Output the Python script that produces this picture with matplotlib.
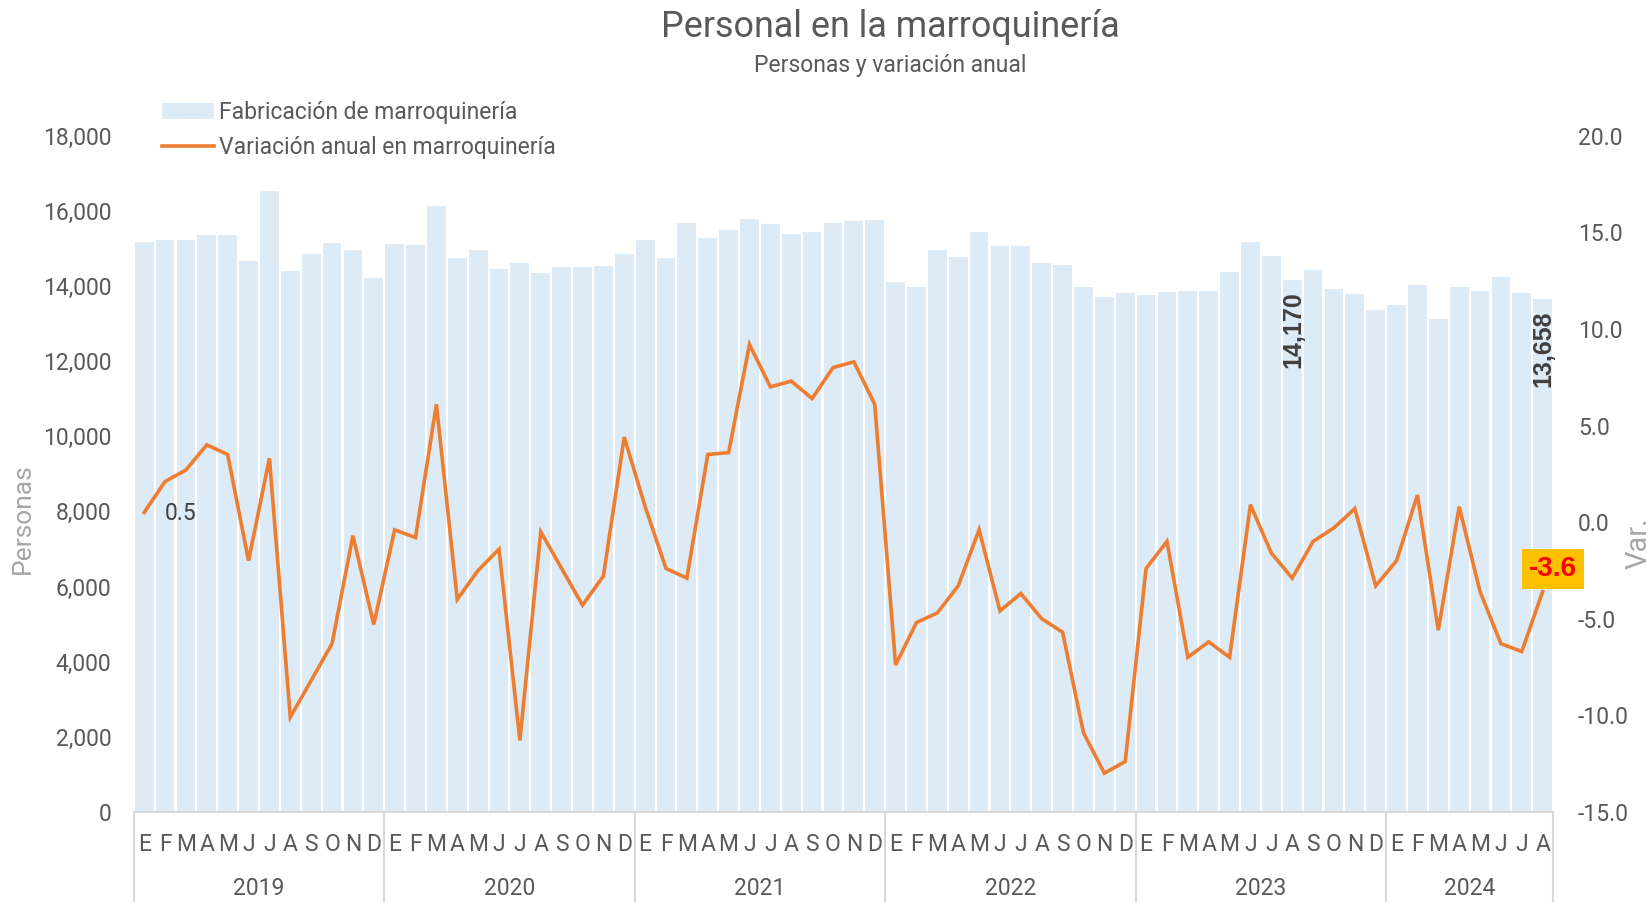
import numpy as np
import matplotlib.pyplot as plt
import matplotlib.transforms as mtransforms

plt.rcParams['font.family'] = ['Roboto', 'DejaVu Sans']

# datos (ene 2019 - ago 2024)
years = ['2019', '2020', '2021', '2022', '2023', '2024']
month_letters = ['E', 'F', 'M', 'A', 'M', 'J', 'J', 'A', 'S', 'O', 'N', 'D']

personas = [
    15170, 15220, 15230, 15370, 15360, 14670, 16540, 14400, 14860, 15150, 14960, 14210,
    15130, 15090, 16130, 14760, 14960, 14460, 14620, 14340, 14520, 14510, 14530, 14850,
    15230, 14750, 15670, 15270, 15500, 15790, 15640, 15390, 15450, 15670, 15740, 15760,
    14110, 13980, 14950, 14770, 15440, 15060, 15060, 14620, 14560, 13970, 13700, 13820,
    13770, 13840, 13880, 13870, 14380, 15180, 14810, 14170, 14420, 13920, 13780, 13360,
    13500, 14030, 13120, 13970, 13870, 14240, 13820, 13658,
]

variacion = [
    0.5, 2.1, 2.7, 4.0, 3.5, -2.0, 3.3, -10.1, -8.2, -6.3, -0.7, -5.3,
    -0.4, -0.8, 6.1, -4.0, -2.5, -1.4, -11.3, -0.5, -2.4, -4.3, -2.8, 4.4,
    0.8, -2.4, -2.9, 3.5, 3.6, 9.2, 7.0, 7.3, 6.4, 8.0, 8.3, 6.1,
    -7.4, -5.2, -4.7, -3.3, -0.4, -4.6, -3.7, -5.0, -5.7, -10.9, -13.0, -12.4,
    -2.4, -1.0, -7.0, -6.2, -7.0, 0.9, -1.6, -2.9, -1.0, -0.3, 0.7, -3.3,
    -2.0, 1.4, -5.6, 0.8, -3.6, -6.3, -6.7, -3.6,
]

n = len(personas)
x = np.arange(n)
month_labels = [month_letters[i % 12] for i in range(n)]

bar_color = '#DDEBF7'
line_color = '#ED7D31'
text_color = '#595959'
axis_color = '#D9D9D9'

fig = plt.figure(figsize=(16.51, 9.02), dpi=100)
ax = fig.add_axes([0.081, 0.1, 0.8597, 0.7494])
ax2 = ax.twinx()

ax.bar(x, personas, width=0.9, color=bar_color, label='Fabricación de marroquinería', zorder=1)
ax2.plot(x, variacion, color=line_color, lw=2.6, solid_joinstyle='miter',
         label='Variación anual en marroquinería', zorder=3)

ax.set_xlim(-0.5, n - 0.5)
ax.set_ylim(0, 18000)
ax2.set_ylim(-15, 20)
ax.set_yticks(np.arange(0, 18001, 2000))
ax.set_yticklabels([f'{v:,}' for v in range(0, 18001, 2000)])
ax2.set_yticks(np.arange(-15, 20.1, 5))
ax2.set_yticklabels([f'{v:.1f}' for v in np.arange(-15, 20.1, 5)])

for a in (ax, ax2):
    for s in a.spines.values():
        s.set_visible(False)
ax.spines['bottom'].set_visible(True)
ax.spines['bottom'].set_color(axis_color)
ax.spines['bottom'].set_linewidth(1.5)

ax.tick_params(axis='y', length=0, pad=16, labelsize=16.5, labelcolor=text_color)
ax2.tick_params(axis='y', length=0, pad=18, labelsize=16.5, labelcolor=text_color)
ax.set_xticks(x)
ax.set_xticklabels(month_labels)
ax.tick_params(axis='x', length=0, pad=15.5, labelsize=16.5, labelcolor=text_color)

# separadores de años y etiquetas de año
trans = mtransforms.blended_transform_factory(ax.transData, ax.transAxes)
for k in range(len(years) + 1):
    xb = min(k * 12, n) - 0.5
    ax.plot([xb, xb], [0, -0.135], transform=trans, color=axis_color, lw=1.5, clip_on=False)
for k, yr in enumerate(years):
    start = k * 12
    end = min(start + 12, n)
    ax.text((start + end - 1) / 2, -0.114, yr, transform=trans, ha='center', va='center',
            fontsize=16.5, color=text_color)

ax.set_ylabel('Personas', fontsize=19, color='#A6A6A6')
ax.yaxis.set_label_coords(-0.0698, 0.433)
ax2.set_ylabel('Var.', fontsize=21, color='#A6A6A6')
ax2.yaxis.set_label_coords(1.0507, 0.398)

# etiquetas de datos
for i in (55, n - 1):
    ax.text(x[i] + 0.05, personas[i] - 320, f'{personas[i]:,}', rotation=90, ha='center', va='top',
            fontsize=18, fontweight='bold', color='#404040', family='Liberation Sans')
ax2.annotate('0.5', (x[0], variacion[0]), xytext=(15, -1), textcoords='offset points',
             ha='left', va='center', fontsize=16.5, color='#404040')
ax2.annotate(f'{variacion[-1]:.1f}', (x[-1], variacion[-1]), xytext=(7.5, 16.5), textcoords='offset points',
             ha='center', va='center', fontsize=20, fontweight='bold', color='#FF0000',
             family='Liberation Sans',
             bbox=dict(boxstyle='square,pad=0.25', fc='#FFC000', ec='none'))

fig.text(0.539, 0.9697, 'Personal en la marroquinería', ha='center', va='center',
         fontsize=25.8, color=text_color)
fig.text(0.539, 0.9277, 'Personas y variación anual', ha='center', va='center',
         fontsize=16.5, color=text_color)

h1, l1 = ax.get_legend_handles_labels()
h2, l2 = ax2.get_legend_handles_labels()
fig.legend(h1 + h2, l1 + l2, loc='upper left', bbox_to_anchor=(0.0923, 0.8986), frameon=False,
           fontsize=16.5, labelcolor=text_color, handlelength=2.3, handletextpad=0.2,
           labelspacing=0.55, borderaxespad=0)

fig.savefig('out.png', dpi=100)
